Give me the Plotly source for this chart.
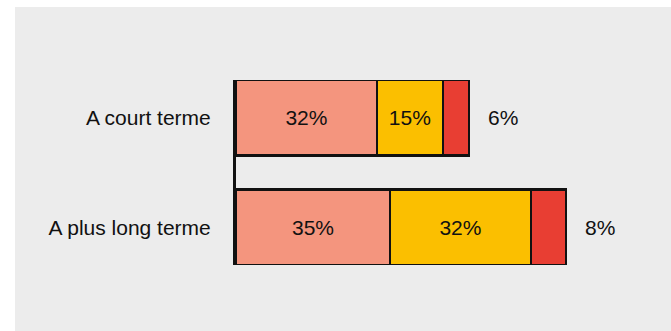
import plotly.graph_objects as go

# Horizons and share of respondents per answer group
categories = ["A court terme", "A plus long terme"]
group_a = [32, 35]
group_b = [15, 32]
group_c = [6, 8]

colors = ["#F4957E", "#FBBF00", "#E83E33"]
font_family = "Liberation Sans, Arial, Helvetica, sans-serif"
font_size = 21
bar_fraction = 0.69

fig = go.Figure()
for vals, col, show in [(group_a, colors[0], True), (group_b, colors[1], True), (group_c, colors[2], False)]:
    fig.add_trace(go.Bar(
        y=categories,
        x=vals,
        orientation="h",
        marker=dict(color=col, line=dict(color="#111111", width=2.5)),
        text=[f"{v}%" for v in vals] if show else None,
        textposition="inside" if show else "none",
        insidetextanchor="middle",
        textfont=dict(family=font_family, size=font_size, color="#111111"),
        hoverinfo="skip",
    ))

# Values of the last segment written just past the end of each bar
totals = [a + b + c for a, b, c in zip(group_a, group_b, group_c)]
for cat, tot, v in zip(categories, totals, group_c):
    fig.add_annotation(
        x=tot, y=cat, text=f"{v}%", showarrow=False,
        xanchor="left", xshift=17,
        font=dict(family=font_family, size=font_size, color="#111111"),
    )

# Grey panel behind the chart
fig.add_shape(
    type="rect", xref="paper", yref="paper",
    x0=-0.558, x1=1.12, y0=-0.37, y1=1.3946,
    fillcolor="#ECECEC", line=dict(width=0), layer="below",
)

half = bar_fraction / 2
fig.update_layout(
    width=671, height=331,
    margin=dict(l=236, r=39, t=80, b=66),
    barmode="stack",
    bargap=1 - bar_fraction,
    showlegend=False,
    paper_bgcolor="white",
    plot_bgcolor="rgba(0,0,0,0)",
    font=dict(family=font_family, size=font_size, color="#111111"),
    xaxis=dict(range=[0, 90], visible=False, fixedrange=True),
    yaxis=dict(
        range=[1 + half, -half],
        showline=True, linecolor="#111111", linewidth=3,
        showgrid=False, zeroline=False, ticks="",
        ticklabelstandoff=18,
        tickfont=dict(family=font_family, size=font_size, color="#111111"),
    ),
)

fig.write_html("out.html", config={"staticPlot": True})
